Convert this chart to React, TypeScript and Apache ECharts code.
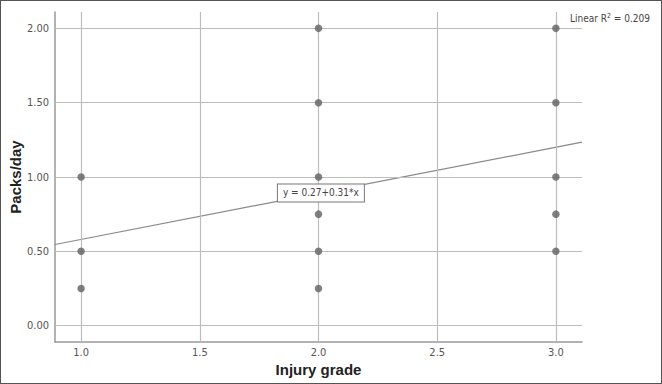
import React, { useEffect, useRef } from "react";
import * as echarts from "echarts";

const injuryGrade1 = [1.0, 1.0, 1.0];
const packs1 = [1.0, 0.5, 0.25];
const injuryGrade2 = [2.0, 2.0, 2.0, 2.0, 2.0, 2.0];
const packs2 = [2.0, 1.5, 1.0, 0.75, 0.5, 0.25];
const injuryGrade3 = [3.0, 3.0, 3.0, 3.0, 3.0];
const packs3 = [2.0, 1.5, 1.0, 0.75, 0.5];

const xTicks = [1.0, 1.5, 2.0, 2.5, 3.0];
const yTicks = [0, 0.5, 1.0, 1.5, 2.0];

const fitIntercept = 0.27;
const fitSlope = 0.31;
const rSquared = "0.209";
const xMin = 0.89;
const xMax = 3.11;
const yMin = -0.11;
const yMax = 2.11;
const fitLabelX = 2.01;

const FONT = "'Liberation Sans Narrow', 'DejaVu Sans Condensed', 'Liberation Sans', sans-serif";

export default function App() {
  const ref = useRef<HTMLDivElement>(null);
  useEffect(() => {
    document.body.style.margin = "0";
    if (!ref.current) return;
    const chart = echarts.init(ref.current, null, { renderer: "svg" });
    const points: number[][] = [];
    [[injuryGrade1, packs1], [injuryGrade2, packs2], [injuryGrade3, packs3]].forEach(([xs, ys]) => {
      xs.forEach((x, i) => points.push([x, ys[i]]));
    });
    const fit = (x: number) => fitIntercept + fitSlope * x;
    chart.setOption({
      animation: false,
      backgroundColor: "#fff",
      grid: { left: 54, right: 79, top: 11, bottom: 41, containLabel: false, outerBoundsMode: "none" },
      xAxis: {
        type: "value",
        min: xMin,
        max: xMax,
        name: "Injury grade",
        nameLocation: "middle",
        nameGap: 20,
        nameMoveOverlap: false,
        nameTextStyle: { fontFamily: "'Liberation Sans', sans-serif", fontWeight: "bold", fontSize: 15, color: "#222" },
        axisLine: { show: true, onZero: false, lineStyle: { color: "#999", width: 1.5 } },
        axisTick: { show: false },
        axisLabel: {
          fontFamily: FONT,
          fontSize: 11,
          color: "#555",
          margin: 5,
          customValues: xTicks,
          formatter: (v: number) => v.toFixed(1),
        },
        splitLine: { show: false },
      },
      yAxis: {
        type: "value",
        min: yMin,
        max: yMax,
        name: "Packs/day",
        nameLocation: "middle",
        nameGap: 32,
        nameMoveOverlap: false,
        nameTextStyle: { fontFamily: "'Liberation Sans', sans-serif", fontWeight: "bold", fontSize: 15, color: "#222" },
        axisLine: { show: true, onZero: false, lineStyle: { color: "#999", width: 1.5 } },
        axisTick: { show: false },
        axisLabel: {
          fontFamily: FONT,
          fontSize: 11,
          color: "#555",
          margin: 6,
          customValues: yTicks,
          formatter: (v: number) => v.toFixed(2),
        },
        splitLine: { show: false },
      },
      series: [
        {
          type: "line",
          silent: true,
          symbol: "none",
          data: [],
          markLine: {
            silent: true,
            symbol: "none",
            label: { show: false },
            lineStyle: { color: "#bdbdbd", width: 1.2, type: "solid" },
            data: [
              ...xTicks.map((x) => ({ xAxis: x })),
              ...yTicks.map((y) => ({ yAxis: y })),
            ],
          },
        },
        {
          type: "scatter",
          data: points,
          symbolSize: 7.5,
          itemStyle: { color: "#606060" },
          z: 5,
        },
        {
          type: "line",
          data: [[xMin, fit(xMin)], [xMax, fit(xMax)]],
          symbol: "none",
          lineStyle: { color: "#8a8a8a", width: 1.2 },
          z: 4,
          markPoint: {
            symbol: "rect",
            symbolSize: 0,
            data: [{ coord: [fitLabelX, fit(fitLabelX)] }],
            label: {
              show: true,
              position: "inside",
              formatter: "y = 0.27+0.31*x",
              fontFamily: FONT,
              fontSize: 10,
              color: "#444",
              backgroundColor: "#fff",
              borderColor: "#777",
              borderWidth: 1,
              padding: [4, 5, 3, 5],
            },
          },
        },
      ],
      graphic: [
        {
          type: "text",
          right: 11,
          top: 11,
          style: {
            text: "{a|Linear R}{s|2}{a| = " + rSquared + "}",
            rich: {
              a: { fontFamily: FONT, fontSize: 10, fill: "#444" },
              s: { fontFamily: FONT, fontSize: 7, fill: "#444", verticalAlign: "top", padding: [0, 0, 5, 0] },
            },
          },
        },
      ],
    });
    return () => chart.dispose();
  }, []);
  return (
    <div
      ref={ref}
      style={{
        position: "absolute",
        left: 0,
        top: 0,
        width: 662,
        height: 384,
        boxSizing: "border-box",
        border: "1px solid #555",
      }}
    />
  );
}
